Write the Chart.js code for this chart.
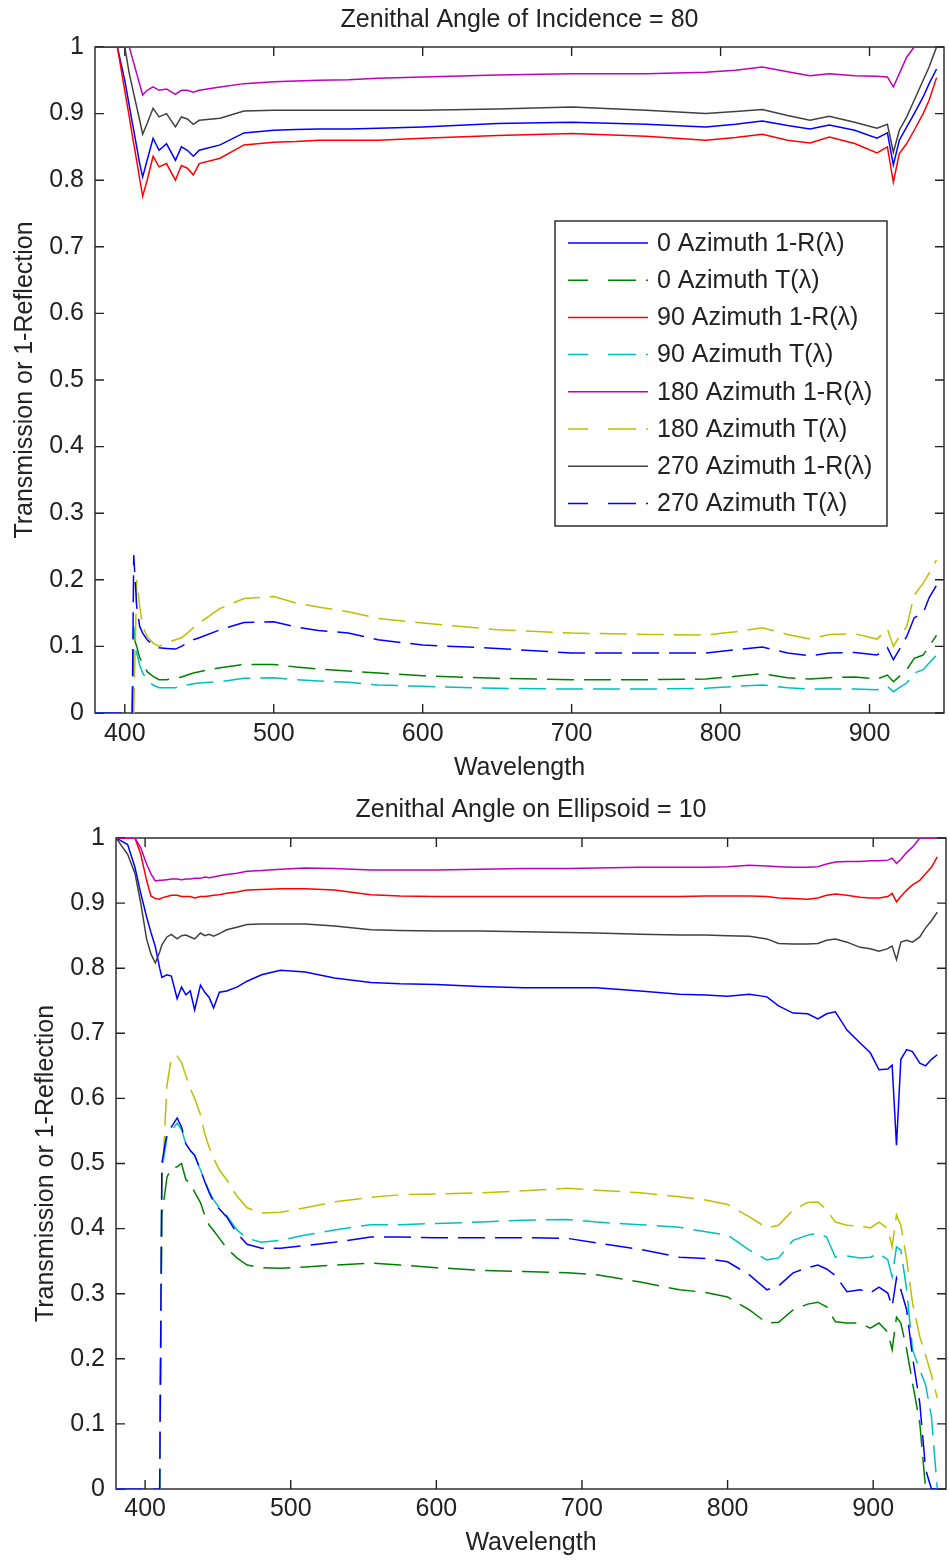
<!DOCTYPE html>
<html>
<head>
<meta charset="UTF-8">
<title>Transmission or 1-Reflection</title>
<script src="https://cdn.jsdelivr.net/npm/chart.js"></script>
<style>
    body {
        margin: 0;
        background: #fff;
    }
    .panel {
        position: absolute;
        left: 0;
        width: 949px;
        height: 780px;
    }
    #panelTop { top: 0; }
    #panelBottom { top: 780px; }
</style>
</head>
<body>
<div class="panel" id="panelTop"><canvas id="chartTop" width="949" height="780"></canvas></div>
<div class="panel" id="panelBottom"><canvas id="chartBottom" width="949" height="780"></canvas></div>

<script>
// ---- data: zenithal angle of incidence = 80 ----
var wavelengthsTop = [380, 395, 400, 403, 405, 406, 408, 410, 412, 415,
    419, 423, 428, 434, 438, 442, 446, 450, 464, 480,
    500, 515, 530, 550, 570, 600, 650, 700, 750, 790,
    810, 828, 845, 860, 873, 890, 905, 912, 916, 920,
    925, 930, 936, 940, 945];

var top0R = [1, 1, 0.95, 0.912, 0.887, 0.875, 0.85, 0.825, 0.805, 0.83,
    0.863, 0.845, 0.855, 0.83, 0.85, 0.845, 0.836, 0.845, 0.853, 0.871,
    0.875, 0.876, 0.877, 0.877, 0.878, 0.88, 0.885, 0.887, 0.884, 0.88,
    0.884, 0.889, 0.882, 0.877, 0.883, 0.875, 0.863, 0.871, 0.823, 0.86,
    0.88, 0.9, 0.925, 0.945, 0.967];
var top0T = [0, 0, 0, 0, 0, 0.114, 0.1, 0.083, 0.075, 0.062,
    0.055, 0.05, 0.05, 0.052, 0.054, 0.057, 0.06, 0.062, 0.068, 0.073,
    0.073, 0.069, 0.066, 0.063, 0.06, 0.056, 0.052, 0.05, 0.05, 0.051,
    0.055, 0.059, 0.053, 0.051, 0.053, 0.054, 0.051, 0.057, 0.047, 0.055,
    0.065, 0.082, 0.087, 0.1, 0.117];
var top90R = [1, 1, 0.934, 0.895, 0.868, 0.855, 0.829, 0.802, 0.776, 0.8,
    0.836, 0.82, 0.825, 0.8, 0.822, 0.818, 0.808, 0.825, 0.833, 0.853,
    0.857, 0.858, 0.86, 0.86, 0.86, 0.863, 0.867, 0.87, 0.866, 0.86,
    0.864, 0.869, 0.86, 0.856, 0.865, 0.855, 0.841, 0.85, 0.797, 0.84,
    0.855, 0.875, 0.9, 0.92, 0.954];
var top90T = [0, 0, 0, 0, 0, 0.13, 0.09, 0.072, 0.06, 0.05,
    0.042, 0.038, 0.038, 0.038, 0.04, 0.042, 0.044, 0.045, 0.047, 0.052,
    0.053, 0.05, 0.048, 0.046, 0.042, 0.04, 0.037, 0.036, 0.036, 0.037,
    0.04, 0.042, 0.038, 0.036, 0.036, 0.036, 0.035, 0.04, 0.032, 0.038,
    0.045, 0.06, 0.065, 0.075, 0.087];
var top180R = [1, 1, 1, 1, 0.984, 0.976, 0.96, 0.944, 0.928, 0.935,
    0.94, 0.935, 0.937, 0.929, 0.935, 0.935, 0.932, 0.935, 0.94, 0.945,
    0.948, 0.949, 0.95, 0.951, 0.953, 0.955, 0.958, 0.96, 0.96, 0.962,
    0.965, 0.97, 0.963, 0.957, 0.96, 0.957, 0.956, 0.955, 0.94, 0.96,
    0.985, 1, 1, 1, 1];
var top180T = [0, 0, 0, 0, 0, 0, 0.2, 0.16, 0.13, 0.115,
    0.105, 0.1, 0.105, 0.11, 0.113, 0.12, 0.128, 0.135, 0.157, 0.172,
    0.175, 0.165, 0.159, 0.152, 0.142, 0.135, 0.125, 0.12, 0.118, 0.117,
    0.122, 0.128, 0.118, 0.111, 0.118, 0.119, 0.111, 0.126, 0.1, 0.115,
    0.13, 0.177, 0.195, 0.21, 0.23];
var top270R = [1, 1, 1, 0.96, 0.94, 0.93, 0.91, 0.89, 0.869, 0.885,
    0.908, 0.895, 0.9, 0.88, 0.895, 0.892, 0.884, 0.89, 0.893, 0.904,
    0.905, 0.905, 0.905, 0.905, 0.905, 0.905, 0.907, 0.91, 0.905, 0.9,
    0.903, 0.906, 0.897, 0.89, 0.896, 0.887, 0.878, 0.884, 0.842, 0.875,
    0.895, 0.92, 0.95, 0.97, 1];
var top270T = [0, 0, 0, 0, 0, 0.237, 0.16, 0.13, 0.12, 0.11,
    0.102, 0.098, 0.097, 0.096, 0.1, 0.105, 0.11, 0.113, 0.125, 0.136,
    0.137, 0.129, 0.124, 0.12, 0.11, 0.102, 0.097, 0.09, 0.09, 0.09,
    0.095, 0.099, 0.09, 0.086, 0.09, 0.091, 0.087, 0.098, 0.08, 0.095,
    0.115, 0.143, 0.15, 0.173, 0.192];

// ---- data: zenithal angle on ellipsoid = 10 ----
var wavelengthsBottom = [380, 388, 393, 397, 401, 404, 407, 410, 411.5, 415,
    418, 422, 425, 428, 431, 434, 438, 441, 444, 447,
    451, 456, 463, 470, 480, 493, 510, 530, 555, 575,
    600, 630, 660, 690, 710, 740, 767, 785, 800, 815,
    827, 835, 845, 855, 862, 868, 874, 882, 891, 898,
    904, 910, 913, 916, 919, 923, 927, 932, 936, 940,
    944];

var bot0R = [1, 0.99, 0.955, 0.915, 0.879, 0.855, 0.833, 0.8, 0.786, 0.79,
    0.788, 0.753, 0.771, 0.759, 0.765, 0.736, 0.774, 0.763, 0.755, 0.739,
    0.763, 0.765, 0.771, 0.78, 0.79, 0.797, 0.794, 0.785, 0.778, 0.776,
    0.775, 0.772, 0.77, 0.77, 0.77, 0.765, 0.76, 0.759, 0.757, 0.76,
    0.756, 0.742, 0.731, 0.73, 0.722, 0.73, 0.733, 0.705, 0.685, 0.67,
    0.644, 0.645, 0.651, 0.528, 0.66, 0.675, 0.672, 0.654, 0.65, 0.66,
    0.667];
var bot0T = [0, 0, 0, 0, 0, 0, 0, 0, 0.42, 0.479,
    0.493, 0.495, 0.5, 0.475, 0.47, 0.456, 0.44, 0.42, 0.405, 0.397,
    0.385, 0.37, 0.355, 0.344, 0.34, 0.339, 0.341, 0.344, 0.347, 0.344,
    0.34, 0.336, 0.334, 0.332, 0.329, 0.318, 0.306, 0.302, 0.295, 0.275,
    0.255, 0.256, 0.275, 0.284, 0.287, 0.28, 0.257, 0.255, 0.255, 0.247,
    0.255, 0.241, 0.214, 0.264, 0.255, 0.214, 0.163, 0.101, 0, 0,
    0];
var bot90R = [1, 1, 1, 0.975, 0.935, 0.911, 0.907, 0.906, 0.908, 0.91,
    0.912, 0.912, 0.91, 0.91, 0.91, 0.908, 0.91, 0.91, 0.911, 0.912,
    0.913, 0.915, 0.917, 0.92, 0.921, 0.922, 0.922, 0.92, 0.913, 0.911,
    0.91, 0.91, 0.91, 0.91, 0.91, 0.91, 0.91, 0.911, 0.911, 0.911,
    0.91, 0.908, 0.907, 0.906, 0.908, 0.912, 0.914, 0.912, 0.909, 0.908,
    0.908, 0.91, 0.915, 0.902, 0.91, 0.92, 0.928, 0.935, 0.945, 0.955,
    0.971];
var bot90T = [0, 0, 0, 0, 0, 0, 0, 0, 0.49, 0.54,
    0.55, 0.562, 0.552, 0.53, 0.52, 0.512, 0.49, 0.473, 0.457, 0.444,
    0.432, 0.42, 0.398, 0.385, 0.379, 0.382, 0.39, 0.398, 0.406, 0.406,
    0.408, 0.41, 0.413, 0.414, 0.41, 0.406, 0.402, 0.395, 0.39, 0.367,
    0.352, 0.355, 0.382, 0.39, 0.393, 0.387, 0.356, 0.358, 0.355, 0.356,
    0.362, 0.352, 0.326, 0.372, 0.367, 0.306, 0.214, 0.183, 0.16, 0.111,
    0];
var bot180R = [1, 1, 1, 0.985, 0.96, 0.945, 0.934, 0.935, 0.935, 0.936,
    0.937, 0.937, 0.936, 0.937, 0.937, 0.938, 0.938, 0.94, 0.939, 0.94,
    0.942, 0.944, 0.946, 0.949, 0.95, 0.952, 0.954, 0.953, 0.951, 0.951,
    0.951, 0.952, 0.953, 0.953, 0.954, 0.955, 0.955, 0.955, 0.956, 0.958,
    0.957, 0.956, 0.955, 0.955, 0.956, 0.96, 0.963, 0.964, 0.964, 0.965,
    0.965, 0.966, 0.969, 0.961, 0.967, 0.978, 0.986, 1, 1, 1,
    1];
var bot180T = [0, 0, 0, 0, 0, 0, 0, 0, 0.464, 0.62,
    0.662, 0.665, 0.655, 0.635, 0.615, 0.6, 0.575, 0.545, 0.525, 0.508,
    0.49, 0.475, 0.45, 0.432, 0.424, 0.425, 0.432, 0.441, 0.448, 0.452,
    0.453, 0.455, 0.458, 0.462, 0.459, 0.455, 0.449, 0.444, 0.437, 0.418,
    0.401, 0.405, 0.429, 0.44, 0.441, 0.429, 0.41, 0.405, 0.404, 0.401,
    0.41, 0.4, 0.372, 0.421, 0.405, 0.352, 0.286, 0.234, 0.205, 0.175,
    0.14];
var bot270R = [1, 0.975, 0.946, 0.9, 0.845, 0.822, 0.808, 0.825, 0.836, 0.848,
    0.852, 0.845, 0.85, 0.851, 0.848, 0.845, 0.854, 0.85, 0.852, 0.849,
    0.853, 0.859, 0.863, 0.867, 0.868, 0.868, 0.868, 0.865, 0.859, 0.858,
    0.857, 0.857, 0.856, 0.855, 0.854, 0.852, 0.851, 0.851, 0.85, 0.849,
    0.845, 0.838, 0.837, 0.837, 0.838, 0.843, 0.845, 0.84, 0.832, 0.83,
    0.826, 0.83, 0.834, 0.813, 0.84, 0.843, 0.84, 0.848, 0.862, 0.873,
    0.886];
var bot270T = [0, 0, 0, 0, 0, 0, 0, 0, 0.5, 0.547,
    0.556, 0.57, 0.556, 0.53, 0.52, 0.513, 0.49, 0.472, 0.455, 0.441,
    0.43, 0.418, 0.393, 0.376, 0.37, 0.37, 0.374, 0.379, 0.387, 0.387,
    0.386, 0.386, 0.386, 0.385, 0.378, 0.368, 0.356, 0.354, 0.349, 0.329,
    0.306, 0.312, 0.332, 0.34, 0.344, 0.338, 0.328, 0.303, 0.306, 0.301,
    0.31, 0.301, 0.28, 0.324, 0.306, 0.275, 0.203, 0.132, 0.03, 0,
    0];

var seriesLabels = ['0 Azimuth 1-R(λ)', '0 Azimuth T(λ)', '90 Azimuth 1-R(λ)', '90 Azimuth T(λ)',
    '180 Azimuth 1-R(λ)', '180 Azimuth T(λ)', '270 Azimuth 1-R(λ)', '270 Azimuth T(λ)'];

// styles (matlab default line order)
var lineColors = ['#0000ff', '#008000', '#ff0000', '#00bfbf', '#bf00bf', '#bfbf00', '#404040', '#0000ff'];
var isDashed = [false, true, false, true, false, true, false, true];

var FONT = '"Liberation Sans", Arial, sans-serif';
Chart.defaults.font.family = FONT;
Chart.defaults.font.size = 25;
Chart.defaults.color = '#222';

function buildDatasets(xs, series) {
    return series.map(function(vals, i) {
        return {
            label: seriesLabels[i],
            data: vals.map(function(v, k) { return {x: xs[k], y: v}; }),
            borderColor: lineColors[i],
            backgroundColor: lineColors[i],
            borderWidth: 1.5,
            borderDash: isDashed[i] ? [27, 10] : [],
            pointRadius: 0,
            tension: 0,
            fill: false,
            order: 7 - i   // later series drawn on top, like matlab
        };
    });
}

// box around the axes with inward tick marks on all four sides
var framePlugin = {
    id: 'frame',
    beforeDatasetsDraw: function(chart) {
        var ctx = chart.ctx, a = chart.chartArea, sx = chart.scales.x, sy = chart.scales.y;
        var len = 9;
        ctx.save();
        ctx.strokeStyle = '#222';
        ctx.lineWidth = 1.4;
        ctx.strokeRect(a.left, a.top, a.right - a.left, a.bottom - a.top);
        ctx.beginPath();
        sx.ticks.forEach(function(t) {
            var px = sx.getPixelForValue(t.value);
            ctx.moveTo(px, a.bottom); ctx.lineTo(px, a.bottom - len);
            ctx.moveTo(px, a.top); ctx.lineTo(px, a.top + len);
        });
        sy.ticks.forEach(function(t) {
            var py = sy.getPixelForValue(t.value);
            ctx.moveTo(a.left, py); ctx.lineTo(a.left + len, py);
            ctx.moveTo(a.right, py); ctx.lineTo(a.right - len, py);
        });
        ctx.stroke();
        ctx.restore();
    }
};

// legend drawn inside the axes, framed box
var boxLegend = {
    id: 'boxLegend',
    afterDatasetsDraw: function(chart, args, opts) {
        if (!opts.show) return;
        var ctx = chart.ctx;
        ctx.save();
        ctx.fillStyle = '#fff';
        ctx.fillRect(opts.left, opts.top, opts.width, opts.height);
        ctx.strokeStyle = '#222';
        ctx.lineWidth = 1.4;
        ctx.strokeRect(opts.left, opts.top, opts.width, opts.height);
        ctx.font = '25px ' + FONT;
        ctx.textBaseline = 'middle';
        ctx.textAlign = 'left';
        chart.data.datasets.forEach(function(ds, i) {
            var y = opts.top + opts.firstRow + i * opts.rowStep;
            ctx.strokeStyle = ds.borderColor;
            ctx.lineWidth = 1.5;
            ctx.setLineDash(ds.borderDash.length ? [20, 20, 28, 10] : []);
            ctx.beginPath();
            ctx.moveTo(opts.left + 13, y);
            ctx.lineTo(opts.left + 93, y);
            ctx.stroke();
            ctx.setLineDash([]);
            ctx.fillStyle = '#222';
            ctx.fillText(ds.label, opts.left + 102, y + 1);
        });
        ctx.restore();
    }
};

function makeChart(canvasId, xs, series, cfg) {
    var ctx = document.getElementById(canvasId).getContext('2d');
    return new Chart(ctx, {
        type: 'line',
        data: { datasets: buildDatasets(xs, series) },
        plugins: [framePlugin, boxLegend],
        options: {
            responsive: false,
            animation: false,
            layout: { padding: { left: 0, right: cfg.padRight, top: 0, bottom: 0 } },
            scales: {
                x: {
                    type: 'linear',
                    min: 380,
                    max: 950,
                    grid: { display: false, drawTicks: false },
                    border: { display: false },
                    ticks: { stepSize: 100, includeBounds: false, autoSkip: false, maxRotation: 0, padding: cfg.xTickPad },
                    title: { display: true, text: 'Wavelength', padding: { top: 0, bottom: cfg.xTitlePad } },
                    afterFit: function(scale) { scale.height = cfg.xHeight; }
                },
                y: {
                    min: 0,
                    max: 1,
                    grid: { display: false, drawTicks: false },
                    border: { display: false },
                    ticks: {
                        stepSize: 0.1,
                        autoSkip: false,
                        padding: 11,
                        callback: function(v) { return String(Math.round(v * 10) / 10); }
                    },
                    title: { display: true, text: 'Transmission or 1-Reflection', padding: { top: cfg.yTitlePad, bottom: 0 } },
                    afterFit: function(scale) { scale.width = cfg.yWidth; }
                }
            },
            plugins: {
                legend: { display: false },
                tooltip: { enabled: false },
                title: {
                    display: true,
                    text: cfg.title,
                    fullSize: false,
                    font: { size: 25, weight: 'normal' },
                    padding: { top: cfg.titleTop, bottom: cfg.titleBottom }
                },
                boxLegend: cfg.legend
            }
        }
    });
}

var chartTop = makeChart('chartTop', wavelengthsTop,
    [top0R, top0T, top90R, top90T, top180R, top180T, top270R, top270T], {
        title: 'Zenithal Angle of Incidence = 80',
        titleTop: 5, titleBottom: 12,
        yWidth: 95, padRight: 5,
        xHeight: 67, xTickPad: 6, xTitlePad: -3,
        yTitlePad: 10,
        legend: { show: true, left: 555, top: 221, width: 332, height: 305, firstRow: 22, rowStep: 37.2 }
    });

var chartBottom = makeChart('chartBottom', wavelengthsBottom,
    [bot0R, bot0T, bot90R, bot90T, bot180R, bot180T, bot270R, bot270T], {
        title: 'Zenithal Angle on Ellipsoid = 10',
        titleTop: 15, titleBottom: 13,
        yWidth: 116, padRight: 3,
        xHeight: 71, xTickPad: 5, xTitlePad: 2,
        yTitlePad: 31,
        legend: { show: false }
    });
</script>
</body>
</html>
